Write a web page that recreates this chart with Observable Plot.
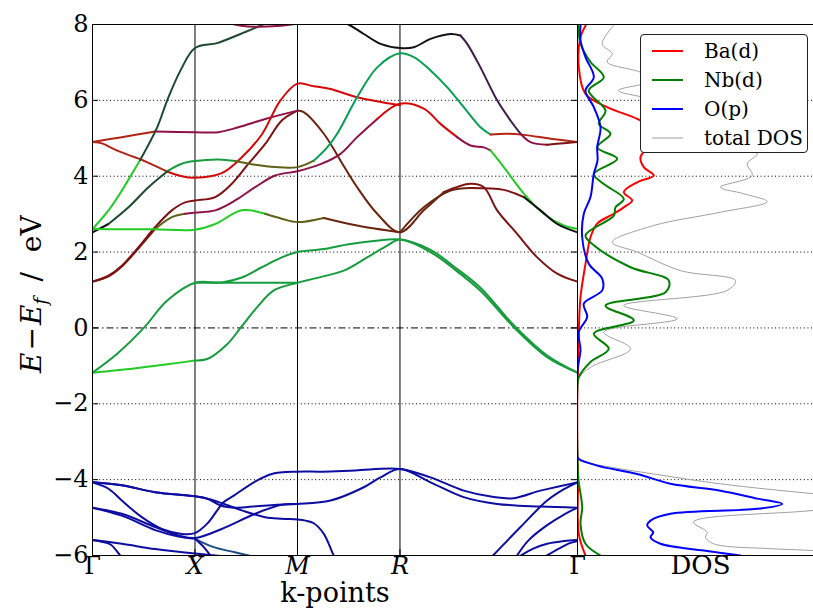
<!DOCTYPE html>
<html>
<head>
<meta charset="utf-8">
<script src="https://cdn.jsdelivr.net/npm/d3@7"></script>
<script src="https://cdn.jsdelivr.net/npm/@observablehq/plot@0.6"></script>
<style>
  body { margin: 0; background: #fff; }
  #chart { position: relative; width: 813px; height: 609px; overflow: hidden; font-family: "DejaVu Serif", serif; background: #fff; }
  #bands { position: absolute; left: 0; top: 0; }
  #dos { position: absolute; left: 577px; top: 0; }
  #legend { position: absolute; left: 640px; top: 34px; width: 168px; height: 119px; border: 1px solid #222; border-radius: 4px; background: #fff; box-sizing: border-box; }
  .lrow { position: absolute; left: 0; height: 24px; width: 166px; }
  .lrow svg { position: absolute; left: 11px; top: 0; }
  .lrow span { position: absolute; left: 63px; top: 0; line-height: 24px; font-size: 20px; font-family: "DejaVu Serif", serif; color: #000; white-space: nowrap; }
</style>
</head>
<body>
<div id="chart"><div id="bands"></div><div id="dos"></div><div id="legend"></div></div>
<script>
// ---------- path / axes ----------
const kPos = [0, 1, 2, 3, 4.732];
const kLabels = ["Γ", "X", "M", "R", "Γ"];
const eTicks = [-6, -4, -2, 0, 2, 4, 6, 8];

// orbital-character codes of band pieces and their colours
const charCodes  = ["g", "G", "e", "D", "k", "r", "R", "n", "m", "c", "o", "p", "b", "t"];
const charColors = ["#22cc22", "#169c3c", "#07a052", "#1b4a2e", "#111111", "#d40808", "#7e1212", "#6b240e", "#8e1248", "#b22414", "#606018", "#3e1a4e", "#0d0da2", "#204c84"];

// ---------- bands: [k, E(eV), character] ----------
const v1 = [[0,-4.07,"b"],[0.286,-4.15,"b"],[0.612,-4.33,"b"],[1.0,-4.44,"b"],[1.132,-4.51,"b"],[1.261,-4.62,"b"],[1.457,-4.81,"b"],[1.685,-4.99,"b"],[1.847,-5.03,"b"],[2.0,-5.05,"b"],[2.08,-5.08,"b"],[2.159,-5.15,"b"],[2.257,-5.43,"b"],[2.354,-6.0,"b"],[2.40,-6.2,"b"]];
const v2 = [[0,-4.07,"b"],[0.156,-4.24,"b"],[0.286,-4.55,"b"],[0.481,-4.99,"b"],[0.676,-5.30,"b"],[0.871,-5.43,"b"],[1.0,-5.41,"b"],[1.119,-5.16,"b"],[1.217,-4.81,"b"],[1.281,-4.59,"b"],[1.379,-4.42,"b"],[1.574,-4.07,"b"],[1.75,-3.85,"b"],[2.0,-3.79,"b"],[2.237,-3.79,"b"],[2.563,-3.76,"b"],[3.0,-3.72,"b"],[3.298,-3.94,"b"],[3.622,-4.29,"b"],[3.915,-4.46,"b"],[4.110,-4.49,"b"],[4.371,-4.29,"b"],[4.732,-4.07,"b"]];
const v3 = [[0,-4.74,"b"],[0.286,-4.90,"b"],[0.612,-5.25,"b"],[0.839,-5.47,"b"],[1.0,-5.54,"b"],[1.261,-5.30,"b"],[1.587,-4.90,"b"],[1.847,-4.66,"b"],[2.0,-4.64,"b"],[2.322,-4.55,"b"],[2.647,-4.20,"b"],[2.810,-3.94,"b"],[3.0,-3.72,"b"],[3.298,-4.07,"b"],[3.622,-4.46,"b"],[3.948,-4.64,"b"],[4.371,-4.71,"b"],[4.732,-4.74,"b"]];
const v4 = [[0,-4.07,"b"],[0.286,-4.15,"b"],[0.612,-4.33,"b"],[1.0,-4.44,"b"],[1.119,-4.50,"b"],[1.25,-4.68,"b"],[1.40,-4.74,"b"],[1.60,-4.70,"b"],[1.80,-4.66,"b"],[2.0,-4.64,"b"]];
const v5 = [[0,-4.74,"b"],[0.286,-4.95,"b"],[0.612,-5.33,"b"],[0.839,-5.50,"b"],[1.0,-5.56,"t"],[1.183,-5.78,"t"],[1.379,-5.91,"t"],[1.6,-6.05,"t"]];
const v6 = [[1.0,-5.56,"b"],[1.086,-5.78,"b"],[1.151,-6.0,"b"],[1.18,-6.1,"b"]];
const v7 = [[0,-5.59,"b"],[0.286,-5.69,"b"],[0.612,-5.83,"b"],[1.0,-5.95,"b"],[1.2,-6.0,"b"],[1.4,-6.05,"b"]];
const v8 = [[0,-5.59,"b"],[0.08,-5.63,"b"],[0.176,-5.71,"b"],[0.27,-6.0,"b"],[0.30,-6.1,"b"]];
const v9 = [[3.89,-6.05,"b"],[4.176,-5.25,"b"],[4.436,-4.55,"b"],[4.60,-4.25,"b"],[4.732,-4.07,"b"]];
const v10 = [[4.13,-6.05,"b"],[4.254,-5.60,"b"],[4.436,-5.20,"b"],[4.60,-4.92,"b"],[4.732,-4.74,"b"]];
const v11 = [[4.15,-6.05,"b"],[4.30,-5.82,"b"],[4.436,-5.69,"b"],[4.60,-5.62,"b"],[4.732,-5.59,"b"]];
const v12 = [[4.40,-6.05,"b"],[4.55,-5.82,"b"],[4.65,-5.68,"b"],[4.732,-5.62,"b"]];

const c1 = [[0,-1.18,"g"],[0.403,-1.07,"g"],[0.729,-0.96,"g"],[1.0,-0.86,"G"],[1.119,-0.82,"G"],[1.314,-0.43,"G"],[1.444,0.0,"G"],[1.607,0.55,"G"],[1.769,0.99,"G"],[2.0,1.19,"G"],[2.159,1.30,"G"],[2.452,1.51,"G"],[2.680,1.86,"G"],[2.875,2.17,"G"],[3.0,2.33,"G"],[3.298,2.0,"G"],[3.525,1.56,"G"],[3.785,0.98,"G"],[4.110,0.02,"G"],[4.436,-0.77,"G"],[4.732,-1.18,"G"]];
const c2 = [[0,-1.18,"G"],[0.241,-0.68,"G"],[0.5,0.0,"G"],[0.729,0.72,"G"],[1.0,1.19,"G"],[1.261,1.20,"G"],[1.457,1.33,"G"],[1.652,1.60,"G"],[1.847,1.86,"G"],[2.0,2.0,"G"],[2.257,2.08,"G"],[2.485,2.20,"G"],[2.744,2.29,"G"],[3.0,2.33,"G"],[3.298,2.06,"G"],[3.525,1.62,"G"],[3.785,1.06,"G"],[4.110,0.07,"G"],[4.436,-0.73,"G"],[4.732,-1.18,"G"]];
const c3 = [[1.0,1.19,"G"],[1.5,1.19,"G"],[2.0,1.19,"G"]];
const r1 = [[0,1.22,"R"],[0.156,1.38,"R"],[0.286,1.64,"R"],[0.449,2.13,"R"],[0.612,2.66,"R"],[0.774,3.10,"R"],[0.904,3.31,"R"],[1.0,3.36,"R"],[1.197,3.45,"R"],[1.359,3.80,"R"],[1.522,4.33,"R"],[1.685,4.85,"R"],[1.847,5.47,"R"],[2.0,5.73,"n"],[2.061,5.69,"n"],[2.257,5.12,"n"],[2.420,4.41,"n"],[2.582,3.71,"n"],[2.778,3.01,"n"],[3.0,2.52,"n"],[3.232,3.10,"n"],[3.427,3.58,"R"],[3.688,3.80,"R"],[3.818,3.71,"R"],[3.948,3.10,"R"],[4.143,2.48,"R"],[4.339,1.86,"R"],[4.534,1.43,"R"],[4.732,1.22,"R"]];
const r2 = [[0,1.22,"R"],[0.156,1.36,"R"],[0.286,1.62,"R"],[0.449,2.10,"R"],[0.612,2.61,"o"],[0.774,2.92,"o"],[0.904,3.01,"m"],[1.0,3.04,"m"],[1.197,3.10,"m"],[1.392,3.36,"m"],[1.587,3.71,"m"],[1.782,4.02,"m"],[2.0,4.13,"m"],[2.237,4.33,"m"],[2.420,4.59,"m"],[2.582,5.03,"m"],[2.778,5.51,"r"],[3.0,5.91,"r"],[3.232,5.78,"r"],[3.395,5.38,"r"],[3.558,5.03,"m"],[3.688,4.81,"m"],[3.818,4.76,"m"],[3.883,4.68,"g"],[4.013,4.24,"g"],[4.208,3.54,"g"],[4.403,3.01,"g"],[4.598,2.70,"g"],[4.732,2.61,"g"]];
const r3 = [[0,4.90,"c"],[0.286,5.03,"c"],[0.612,5.18,"m"],[1.0,5.16,"m"],[1.229,5.16,"m"],[1.424,5.29,"m"],[1.685,5.51,"m"],[2.0,5.73,"m"]];
const r4 = [[0,4.90,"c"],[0.10,4.86,"c"],[0.221,4.70,"c"],[0.36,4.55,"c"],[0.465,4.45,"c"],[0.514,4.39,"c"],[0.741,4.11,"r"],[0.871,4.00,"r"],[1.0,3.96,"r"],[1.261,4.08,"r"],[1.457,4.50,"r"],[1.652,5.10,"r"],[1.834,6.0,"r"],[2.0,6.44,"r"],[2.159,6.37,"r"],[2.322,6.30,"r"],[2.582,6.08,"r"],[3.0,5.87,"r"]];
const gs = [[0,2.61,"g"],[0.156,3.10,"g"],[0.286,3.62,"g"],[0.383,4.06,"g"],[0.465,4.43,"D"],[0.631,5.29,"D"],[0.729,6.0,"D"],[0.859,6.79,"D"],[1.0,7.38,"D"],[1.217,7.51,"D"],[1.444,7.75,"D"],[1.639,7.97,"D"],[1.80,8.15,"D"]];
const k1 = [[0,2.52,"k"],[0.156,2.74,"D"],[0.351,3.18,"D"],[0.546,3.71,"D"],[0.741,4.15,"G"],[0.871,4.33,"G"],[1.0,4.40,"G"],[1.229,4.44,"G"],[1.392,4.40,"o"],[1.587,4.30,"o"],[1.782,4.24,"o"],[2.0,4.24,"o"],[2.159,4.41,"e"],[2.290,4.76,"e"],[2.387,5.12,"e"],[2.582,6.08,"e"],[2.778,6.87,"e"],[3.0,7.24,"e"],[3.135,7.14,"e"],[3.298,6.79,"e"],[3.460,6.35,"e"],[3.622,5.82,"e"],[3.785,5.29,"e"],[3.883,5.10,"c"],[4.046,5.12,"c"],[4.208,5.09,"c"],[4.468,4.99,"c"],[4.732,4.90,"c"]];
const l1 = [[0,2.61,"g"],[0.3,2.60,"g"],[0.6,2.60,"g"],[1.0,2.59,"g"],[1.197,2.74,"g"],[1.457,3.10,"g"],[1.685,3.01,"o"],[1.847,2.88,"o"],[2.0,2.79,"o"],[2.257,2.90,"n"],[2.582,2.70,"n"],[3.0,2.52,"n"]];
const l2 = [[3.0,2.52,"n"],[3.232,3.18,"n"],[3.493,3.62,"n"],[3.688,3.69,"R"],[4.013,3.64,"R"],[4.208,3.45,"k"],[4.371,3.10,"k"],[4.534,2.74,"k"],[4.732,2.52,"k"]];
const t1 = [[2.40,8.10,"k"],[2.485,8.02,"k"],[2.647,7.75,"k"],[2.810,7.49,"k"],[3.0,7.38,"k"],[3.135,7.40,"k"],[3.298,7.62,"k"],[3.493,7.75,"k"],[3.590,7.71,"p"],[3.656,7.49,"p"],[3.785,6.87,"p"],[3.948,6.0,"p"],[4.078,5.47,"p"],[4.176,5.12,"m"],[4.273,4.90,"m"],[4.436,4.83,"R"],[4.598,4.87,"R"],[4.732,4.90,"R"]];
const t2 = [[1.30,8.06,"m"],[1.45,7.97,"m"],[1.60,7.94,"m"],[1.80,7.96,"m"],[2.0,8.02,"m"]];

const bandList = [v1, v2, v3, v4, v5, v6, v7, v8, v9, v10, v11, v12, c1, c2, c3, r1, r2, r3, r4, gs, k1, l1, l2, t1, t2];

// ---------- DOS: [E(eV), DOS] ----------
const dosTotal = [[7.97,3.6],[7.49,2.47],[7.23,3.47],[7.01,2.97],[6.74,6.3],[6.52,7.5],[6.26,4.1],[6.0,7.5],[5.6,9.5],[5.2,11.5],[4.81,14.5],[4.59,17.97],[4.33,16.97],[4.02,17.47],[3.71,14.3],[3.54,16.6],[3.33,18.97],[3.05,14.3],[2.70,7.63],[2.26,3.47],[2.0,5.97],[1.51,10.3],[1.25,15.8],[0.99,14.97],[0.59,4.63],[0.24,9.97],[-0.11,2.63],[-0.55,5.3],[-1.04,1.3],[-1.39,0],[-3.44,0],[-3.49,0.1],[-3.67,3.3],[-3.85,7.6],[-4.11,14.3],[-4.37,23.6],[-4.55,32],[-4.81,23.6],[-5.12,11.6],[-5.39,12.97],[-5.52,12.8],[-5.69,13.6],[-5.82,19.3],[-5.87,23.6],[-6.0,30]];
const dosBa = [[7.97,0.8],[7.67,0.3],[6.87,0.13],[6.17,0.8],[5.82,2.97],[5.51,5.97],[5.21,7.8],[4.86,7.3],[4.50,6.3],[4.24,6.63],[4.02,7.63],[3.84,5.97],[3.58,4.63],[3.36,5.47],[3.18,4.63],[3.01,3.63],[2.75,1.97],[2.39,1.3],[1.69,0.8],[0.81,0.3],[-0.07,0.13],[-1.12,0.05],[-1.5,0],[-3.44,0],[-4.02,0.05],[-5.43,0.13],[-6.0,0.8]];
const dosNb = [[7.97,0.1],[7.50,0.3],[7.01,1.3],[6.61,2.63],[6.26,1.13],[5.73,2.8],[5.38,2.13],[5.12,3.3],[4.76,1.97],[4.46,3.97],[4.06,1.63],[3.80,2.6],[3.40,4.63],[3.18,3.8],[2.96,3.63],[2.44,0.8],[2.18,1.63],[1.60,5.3],[1.25,9.13],[0.94,8.8],[0.59,2.8],[0.20,5.63],[-0.15,1.63],[-0.55,3.13],[-0.90,1.3],[-1.30,0.13],[-1.5,0],[-3.44,0],[-4.02,0.1],[-4.73,0.47],[-5.16,0.3],[-5.69,0.8],[-6.0,2.3]];
const dosO = [[7.97,0.3],[7.58,0.3],[7.14,0.8],[6.61,1.63],[6.26,0.8],[5.82,1.63],[5.29,2.3],[4.76,1.97],[4.41,2.0],[4.06,1.63],[3.45,1.3],[3.01,0.63],[2.39,0.47],[1.69,1.13],[1.30,2.47],[0.99,2.47],[0.64,0.63],[0.29,0.97],[-0.11,0.13],[-0.59,0.3],[-1.12,0],[-3.40,0],[-3.45,0.1],[-3.63,1.97],[-3.85,5.97],[-4.11,9.3],[-4.29,14.3],[-4.50,17.97],[-4.64,20.47],[-4.77,17.97],[-4.90,9.3],[-5.08,7.3],[-5.21,6.97],[-5.39,7.57],[-5.52,7.3],[-5.69,8.3],[-5.87,12.63],[-6.0,16.3]];
const dosLabels = ["Ba(d)", "Nb(d)", "O(p)", "total DOS"];
const dosColors = ["#ff0000", "#008000", "#0000ff", "#a0a0a0"];
const dosSeries = [dosBa, dosNb, dosO, dosTotal];

// ---------- build band pieces (split where the character changes) ----------
const rows = [];
let pid = 0;
bandList.forEach(b => {
  b.forEach((p, i) => {
    if (i > 0 && p[2] !== b[i - 1][2]) {
      rows.push({k: p[0], E: p[1], c: b[i - 1][2], piece: pid});
      pid++;
    }
    rows.push({k: p[0], E: p[1], c: p[2], piece: pid});
  });
  pid++;
});

const kTicks = kPos.map((k, i) => ({k, label: kLabels[i]}));
const fmt = d => (d < 0 ? "\u2212" + Math.abs(d) : String(d));
const gridE = eTicks.filter(e => e !== 0 && e !== -6 && e !== 8);

const W1 = 580, H = 609, mL = 92, mR = 3, mT = 24, mB = 54;
const frameW = W1 - mL - mR;

const bandsPlot = Plot.plot({
  width: W1, height: H,
  marginLeft: mL, marginRight: mR, marginTop: mT, marginBottom: mB,
  style: {fontFamily: "DejaVu Serif", fontSize: "24px", background: "transparent", overflow: "visible"},
  x: {domain: [0, kPos[4]], axis: null},
  y: {domain: [-6, 8], axis: null, label: null},
  color: {type: "ordinal", domain: charCodes, range: charColors},
  marks: [
    Plot.ruleY(gridE, {y: d => d, stroke: "#000", strokeWidth: 1, strokeDasharray: "1,2.6"}),
    Plot.ruleY([0], {y: d => d, stroke: "#000", strokeWidth: 1, strokeDasharray: "7,3,1.5,3"}),
    Plot.ruleX(kPos.slice(1, 4), {x: d => d, stroke: "#000", strokeWidth: 1}),
    Plot.line(rows, {x: "k", y: "E", z: "piece", stroke: "c", strokeWidth: 2, curve: "catmull-rom", clip: true}),
    Plot.tickY(eTicks, {y: d => d, insetRight: frameW - 6, stroke: "#000"}),
    Plot.tickY(eTicks, {y: d => d, insetLeft: frameW - 6, stroke: "#000"}),
    Plot.tickX(kPos, {x: d => d, insetTop: 531 - 6, stroke: "#000"}),
    Plot.frame({stroke: "#000", strokeWidth: 1}),
    Plot.axisY(eTicks, {anchor: "left", tickSize: 0, tickPadding: 4, tickFormat: fmt, fontSize: 24, label: null}),
    Plot.text(kTicks.filter(d => d.label === "Γ"), {x: "k", text: "label", frameAnchor: "bottom", dy: 18, fontSize: 24}),
    Plot.text(kTicks.filter(d => d.label !== "Γ"), {x: "k", text: "label", frameAnchor: "bottom", dy: 18, fontSize: 24, fontStyle: "italic"}),
    Plot.text(["k-points"], {frameAnchor: "bottom", dy: 46, fontSize: 27})
  ]
});
document.getElementById("bands").appendChild(bandsPlot);

// y-axis label with italic symbols and subscript
const yl = d3.select(bandsPlot).append("text")
  .attr("transform", "translate(41,373) rotate(-90)")
  .attr("text-anchor", "start")
  .attr("font-family", "DejaVu Serif")
  .attr("font-size", 28)
  .attr("fill", "#000");
yl.append("tspan").attr("font-style", "italic").text("E");
yl.append("tspan").attr("dx", 2).text("\u2212");
yl.append("tspan").attr("dx", 2).attr("font-style", "italic").text("E");
yl.append("tspan").attr("font-style", "italic").attr("font-size", 19).attr("dy", 6).text("f");
yl.append("tspan").attr("dy", -6).attr("dx", 16).text("/");
yl.append("tspan").attr("dx", 20).text("eV");

// ---------- DOS panel ----------
const W2 = 236;
const dosPlot = Plot.plot({
  width: W2, height: H,
  marginLeft: 0, marginRight: 0, marginTop: mT, marginBottom: mB,
  style: {fontFamily: "DejaVu Serif", fontSize: "24px", background: "transparent", overflow: "visible"},
  x: {domain: [0, 23.6], axis: null},
  y: {domain: [-6, 8], axis: null, label: null},
  marks: [
    Plot.ruleY(eTicks.filter(e => e !== -6 && e !== 8), {y: d => d, stroke: "#000", strokeWidth: 1, strokeDasharray: "1,2.6"}),
    ...[3, 0, 1, 2].map(i => Plot.line(dosSeries[i], {x: d => d[1], y: d => d[0], stroke: dosColors[i], strokeWidth: i === 3 ? 1 : 2, curve: "catmull-rom", clip: true})),
    Plot.ruleY([-6, 8], {y: d => d, stroke: "#000", strokeWidth: 1}),
    Plot.ruleX([0], {x: d => d, stroke: "#000", strokeWidth: 1}),
    Plot.text(["DOS"], {frameAnchor: "bottom", dy: 18, dx: 5, fontSize: 26})
  ]
});
document.getElementById("dos").appendChild(dosPlot);

// ---------- legend ----------
const leg = document.getElementById("legend");
const rowTops = [4, 33, 62, 91];
dosLabels.forEach((lab, i) => {
  const r = document.createElement("div");
  r.className = "lrow";
  r.style.top = rowTops[i] + "px";
  r.innerHTML = `<svg width="31" height="24"><line x1="0" y1="12" x2="31" y2="12" stroke="${dosColors[i]}" stroke-width="${i === 3 ? 1 : 2}"/></svg><span>${lab}</span>`;
  leg.appendChild(r);
});
</script>
</body>
</html>
